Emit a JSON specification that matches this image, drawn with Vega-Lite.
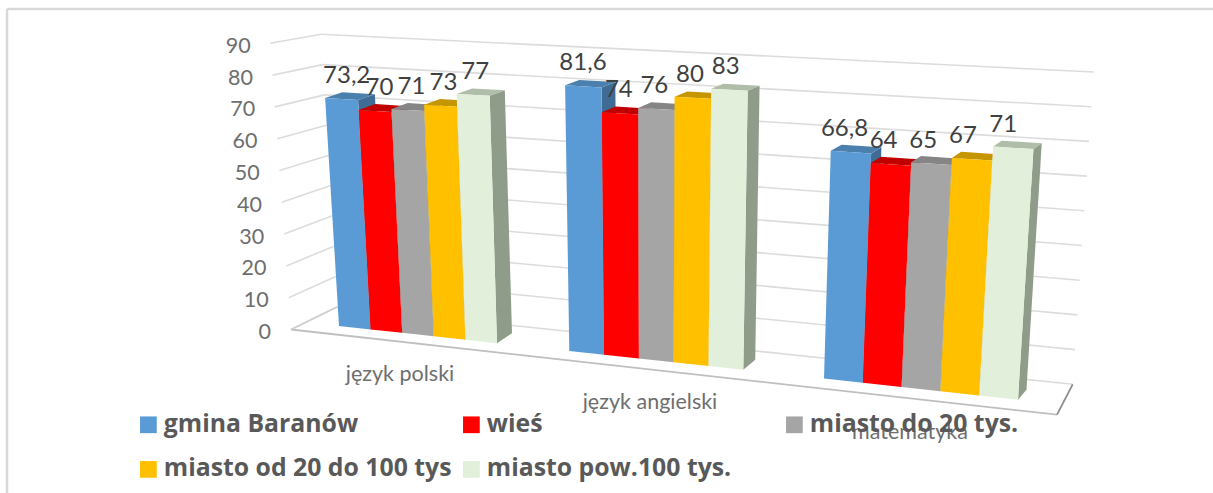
{
"$schema":"https://vega.github.io/schema/vega-lite/v6.json",
"width":1213,"height":493,"padding":0,"autosize":{"type":"none"},"background":"#ffffff",
"config":{"view":{"stroke":null}},
"datasets":{
"wyniki":[
{"przedmiot":"język polski","seria":"gmina Baranów","wynik":73.2},
{"przedmiot":"język polski","seria":"wieś","wynik":70},
{"przedmiot":"język polski","seria":"miasto do 20 tys.","wynik":71},
{"przedmiot":"język polski","seria":"miasto od 20 do 100 tys","wynik":73},
{"przedmiot":"język polski","seria":"miasto pow.100 tys.","wynik":77},
{"przedmiot":"język angielski","seria":"gmina Baranów","wynik":81.6},
{"przedmiot":"język angielski","seria":"wieś","wynik":74},
{"przedmiot":"język angielski","seria":"miasto do 20 tys.","wynik":76},
{"przedmiot":"język angielski","seria":"miasto od 20 do 100 tys","wynik":80},
{"przedmiot":"język angielski","seria":"miasto pow.100 tys.","wynik":83},
{"przedmiot":"matematyka","seria":"gmina Baranów","wynik":66.8},
{"przedmiot":"matematyka","seria":"wieś","wynik":64},
{"przedmiot":"matematyka","seria":"miasto do 20 tys.","wynik":65},
{"przedmiot":"matematyka","seria":"miasto od 20 do 100 tys","wynik":67},
{"przedmiot":"matematyka","seria":"miasto pow.100 tys.","wynik":71}
],
"ticks":[{"v":0},{"v":10},{"v":20},{"v":30},{"v":40},{"v":50},{"v":60},{"v":70},{"v":80},{"v":90}],
"kategorie":[{"przedmiot":"język polski","g":0},{"przedmiot":"język angielski","g":1},{"przedmiot":"matematyka","g":2}]
},
"layer":[
{"data":{"name":"ticks"},"transform":[{"filter":"datum.v==0"}],
 "layer":[
  {"mark":{"type":"rule","color":"#d9d9d9","strokeWidth":2.5},"encoding":{"x":{"datum":7,"scale":{"domain":[0,1213],"nice":false,"zero":false},"axis":null},"x2":{"datum":1213},"y":{"datum":9,"scale":{"domain":[0,493],"reverse":true,"nice":false,"zero":false},"axis":null}}},
  {"mark":{"type":"rule","color":"#d9d9d9","strokeWidth":2.5},"encoding":{"x":{"datum":7},"y":{"datum":9},"y2":{"datum":493}}}
 ]},
{"data":{"name":"ticks"},
 "transform":[
  {"calculate":"291-0.23*datum.v","as":"x1"},{"calculate":"329.5-3.18*datum.v","as":"y1"},
  {"calculate":"337-0.178*datum.v","as":"x2"},{"calculate":"307-3.03*datum.v","as":"y2"},
  {"calculate":"1072.7+0.233*datum.v","as":"x3"},{"calculate":"384.3-3.47*datum.v","as":"y3"},
  {"calculate":"271-0.225*datum.v","as":"xl"},{"calculate":"333-3.18*datum.v","as":"yl"}
 ],
 "layer":[
  {"mark":{"type":"rule","color":"#dcdcdc","strokeWidth":1.6},"encoding":{"x":{"field":"x1","type":"quantitative"},"y":{"field":"y1","type":"quantitative"},"x2":{"field":"x2"},"y2":{"field":"y2"}}},
  {"mark":{"type":"rule","color":"#dcdcdc","strokeWidth":1.6},"encoding":{"x":{"field":"x2","type":"quantitative"},"y":{"field":"y2","type":"quantitative"},"x2":{"field":"x3"},"y2":{"field":"y3"}}},
  {"mark":{"type":"text","align":"right","baseline":"middle","font":"Lato","fontSize":21.5,"color":"#6e6e6e"},"encoding":{"x":{"field":"xl","type":"quantitative"},"y":{"field":"yl","type":"quantitative"},"text":{"field":"v"}}}
 ]},
{"data":{"name":"ticks"},"transform":[{"filter":"datum.v==0"}],
 "layer":[
  {"mark":{"type":"rule","color":"#bfbfbf","strokeWidth":1.8},"encoding":{"x":{"datum":291},"y":{"datum":329.5},"x2":{"datum":1057},"y2":{"datum":414.7}}},
  {"mark":{"type":"rule","color":"#8c8c8c","strokeWidth":1.8},"encoding":{"x":{"datum":1057},"y":{"datum":414.7},"x2":{"datum":1072.7},"y2":{"datum":384.3}}},
  {"mark":{"type":"rule","color":"#d0d0d0","strokeWidth":1.8},"encoding":{"x":{"datum":291},"y":{"datum":329.5},"x2":{"datum":337},"y2":{"datum":307}}}
 ]},
{"data":{"name":"wyniki"},
 "transform":[
  {"calculate":"indexof(['język polski','język angielski','matematyka'],datum.przedmiot)","as":"g"},
  {"calculate":"indexof(['gmina Baranów','wieś','miasto do 20 tys.','miasto od 20 do 100 tys','miasto pow.100 tys.'],datum.seria)","as":"s"},
  {"calculate":"[0,1,2,3]","as":"c"},{"flatten":["c"]},
  {"calculate":"['side','top','front']","as":"f"},{"flatten":["f"]},
  {"calculate":"datum.f=='side'?1:[0,1,1,0][datum.c]","as":"eu"},
  {"calculate":"datum.f=='top'?1:[1,1,0,0][datum.c]","as":"vf"},
  {"calculate":"datum.f=='front'?0:(datum.f=='side'?[0,1,1,0][datum.c]:[0,0,1,1][datum.c])","as":"dd"},
  {"calculate":"[339,569.3,824][datum.g]+[31.6,34.8,38.8][datum.g]*(datum.s+datum.eu)","as":"xb"},
  {"calculate":"datum.wynik*datum.vf","as":"vv"},
  {"calculate":"datum.xb+(datum.xb-655)*0.0006*datum.vv","as":"fx"},
  {"calculate":"326+0.1085*(datum.xb-339)-datum.vv*(3.115+(datum.xb-339)*0.00061)","as":"fy"},
  {"calculate":"datum.fx+datum.dd*(15-(datum.fx-497)*0.0125)","as":"sx"},
  {"calculate":"datum.fy+datum.dd*(-10+0.058*datum.vv)","as":"sy"},
  {"calculate":"[['#3f6c94','#b00000','#7c7c7c','#b88c00','#8f9c8a'],['#4a7fae','#c00000','#858585','#c69600','#b0bda8']][datum.f=='side'?0:1][datum.s]","as":"ciemny"}
 ],
 "layer":[
  {"transform":[{"filter":"datum.f=='side'"}],"mark":{"type":"line","strokeWidth":0},"encoding":{"x":{"field":"sx","type":"quantitative"},"y":{"field":"sy","type":"quantitative"},"order":{"field":"c"},"detail":[{"field":"g"},{"field":"s"}],"fill":{"field":"ciemny","type":"nominal","scale":null}}},
  {"transform":[{"filter":"datum.f=='top'"}],"mark":{"type":"line","strokeWidth":0},"encoding":{"x":{"field":"sx","type":"quantitative"},"y":{"field":"sy","type":"quantitative"},"order":{"field":"c"},"detail":[{"field":"g"},{"field":"s"}],"fill":{"field":"ciemny","type":"nominal","scale":null}}},
  {"transform":[{"filter":"datum.f=='front'"}],"mark":{"type":"line","strokeWidth":0},"encoding":{"x":{"field":"sx","type":"quantitative"},"y":{"field":"sy","type":"quantitative"},"order":{"field":"c"},"detail":[{"field":"g"}],
    "fill":{"field":"seria","type":"nominal",
      "scale":{"domain":["gmina Baranów","wieś","miasto do 20 tys.","miasto od 20 do 100 tys","miasto pow.100 tys."],"range":["#5b9bd5","#ff0000","#a5a5a5","#ffc000","#e2efda"]},
      "legend":{"title":null,"orient":"none","legendX":136,"legendY":412,"columns":3,"direction":"horizontal","symbolType":"square","symbolSize":280,"symbolStrokeWidth":0,"symbolOpacity":1,"labelFont":"Open Sans","labelFontWeight":"bold","labelFontSize":24.8,"labelColor":"#595959","labelLimit":400,"rowPadding":19,"columnPadding":7,"labelOffset":3,"gridAlign":"all","symbolOffset":0}}}},
  {"transform":[{"filter":"datum.f=='top' && datum.c==0"},
    {"calculate":"[339,569.3,824][datum.g]+[31.6,34.8,38.8][datum.g]*(datum.s+0.5)","as":"xc"},
    {"calculate":"datum.xc+(datum.xc-655)*0.0006*datum.wynik","as":"xt"},
    {"calculate":"datum.xt-(datum.xt-655)*0.0225-2","as":"lx"},
    {"calculate":"326+0.1085*(datum.xc-339)-datum.wynik*(3.115+(datum.xc-339)*0.00061)-23","as":"ly"},
    {"calculate":"replace(toString(datum.wynik),'.',',')","as":"etykieta"}],
   "mark":{"type":"text","align":"center","baseline":"middle","font":"Lato","fontSize":24,"color":"#404040"},
   "encoding":{"x":{"field":"lx","type":"quantitative"},"y":{"field":"ly","type":"quantitative"},"text":{"field":"etykieta"}}}
 ]},
{"data":{"name":"kategorie"},
 "transform":[{"calculate":"[400,650,910][datum.g]","as":"kx"},{"calculate":"[375,403,433][datum.g]","as":"ky"}],
 "mark":{"type":"text","align":"center","baseline":"middle","font":"Lato","fontSize":21.5,"color":"#6e6e6e"},
 "encoding":{"x":{"field":"kx","type":"quantitative"},"y":{"field":"ky","type":"quantitative"},"text":{"field":"przedmiot"}}}
]
}
